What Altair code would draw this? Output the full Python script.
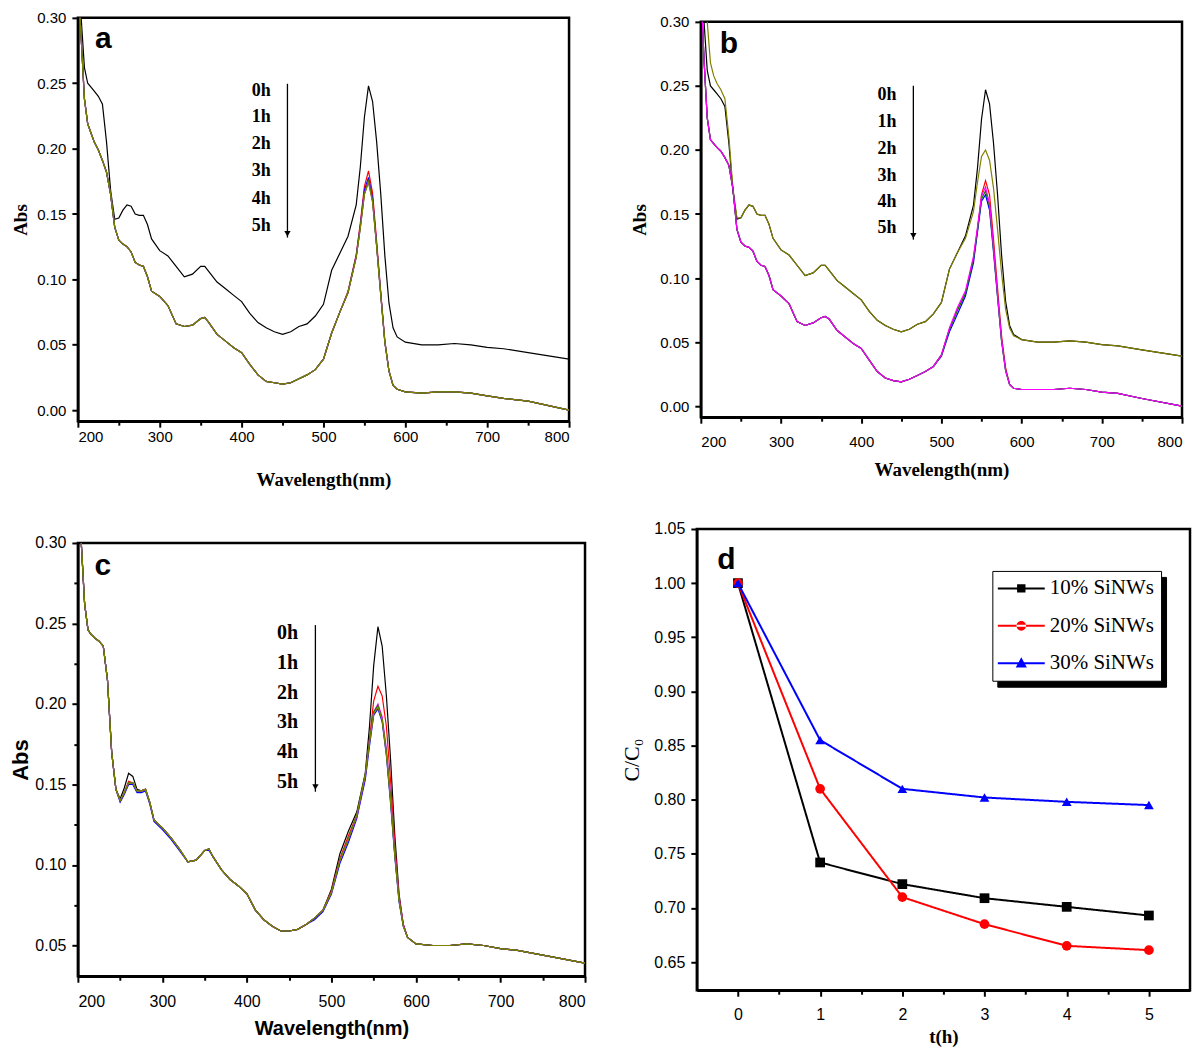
import altair as alt
import pandas as pd

# ---------------- data ----------------
wavelength = [200, 204, 208, 212, 216, 220, 225, 230, 235, 240,
              245, 250, 255, 260, 265, 270, 275, 280, 285, 290,
              300, 310, 320, 330, 340, 350, 355, 360, 370, 380,
              390, 400, 410, 420, 430, 440, 450, 460, 470, 480,
              490, 500, 510, 520, 530, 540, 545, 550, 555, 560,
              565, 570, 575, 580, 585, 590, 600, 620, 640, 660,
              680, 700, 720, 750, 800]
hours = ["0h", "1h", "2h", "3h", "4h", "5h"]

# panel a
a_0h = [0.330, 0.300, 0.262, 0.250, 0.247, 0.244, 0.240, 0.234, 0.205, 0.168,
        0.146, 0.147, 0.153, 0.157, 0.156, 0.150, 0.149, 0.149, 0.142, 0.131,
        0.122, 0.118, 0.110, 0.102, 0.104, 0.110, 0.110, 0.106, 0.098, 0.093,
        0.088, 0.083, 0.074, 0.067, 0.063, 0.060, 0.058, 0.060, 0.064, 0.066,
        0.072, 0.081, 0.107, 0.120, 0.133, 0.157, 0.186, 0.224, 0.248, 0.236,
        0.205, 0.165, 0.118, 0.082, 0.063, 0.056, 0.052, 0.050, 0.050, 0.051,
        0.050, 0.048, 0.047, 0.044, 0.039]
a_1h = [0.330, 0.285, 0.238, 0.219, 0.212, 0.205, 0.199, 0.191, 0.182, 0.165,
        0.140, 0.130, 0.127, 0.125, 0.121, 0.113, 0.111, 0.110, 0.102, 0.091,
        0.087, 0.080, 0.066, 0.064, 0.065, 0.070, 0.071, 0.067, 0.058, 0.053,
        0.048, 0.044, 0.035, 0.027, 0.022, 0.021, 0.020, 0.021, 0.024, 0.027,
        0.031, 0.039, 0.059, 0.075, 0.091, 0.119, 0.143, 0.171, 0.183, 0.166,
        0.129, 0.090, 0.053, 0.030, 0.019, 0.016, 0.014, 0.013, 0.014, 0.014,
        0.013, 0.011, 0.009, 0.007, 0.000]
a_2h = [0.330, 0.285, 0.238, 0.219, 0.212, 0.205, 0.199, 0.191, 0.182, 0.165,
        0.140, 0.130, 0.127, 0.125, 0.121, 0.113, 0.111, 0.110, 0.102, 0.091,
        0.087, 0.080, 0.066, 0.064, 0.065, 0.070, 0.071, 0.067, 0.058, 0.053,
        0.048, 0.044, 0.035, 0.027, 0.022, 0.021, 0.020, 0.021, 0.024, 0.027,
        0.031, 0.039, 0.059, 0.075, 0.090, 0.118, 0.141, 0.168, 0.178, 0.162,
        0.126, 0.089, 0.052, 0.030, 0.019, 0.016, 0.014, 0.013, 0.014, 0.014,
        0.013, 0.011, 0.009, 0.007, 0.000]
a_3h = [0.330, 0.285, 0.238, 0.219, 0.212, 0.205, 0.199, 0.191, 0.182, 0.165,
        0.140, 0.130, 0.127, 0.125, 0.121, 0.113, 0.111, 0.110, 0.102, 0.091,
        0.087, 0.080, 0.066, 0.064, 0.065, 0.070, 0.071, 0.067, 0.058, 0.053,
        0.048, 0.044, 0.035, 0.027, 0.022, 0.021, 0.020, 0.021, 0.024, 0.027,
        0.031, 0.039, 0.059, 0.075, 0.090, 0.117, 0.140, 0.166, 0.176, 0.160,
        0.125, 0.088, 0.052, 0.030, 0.019, 0.016, 0.014, 0.013, 0.014, 0.014,
        0.013, 0.011, 0.009, 0.007, 0.000]
a_4h = [0.330, 0.285, 0.238, 0.219, 0.212, 0.205, 0.199, 0.191, 0.182, 0.165,
        0.140, 0.130, 0.127, 0.125, 0.121, 0.113, 0.111, 0.110, 0.102, 0.091,
        0.087, 0.080, 0.066, 0.064, 0.065, 0.070, 0.071, 0.067, 0.058, 0.053,
        0.048, 0.044, 0.035, 0.027, 0.022, 0.021, 0.020, 0.021, 0.024, 0.027,
        0.031, 0.039, 0.059, 0.075, 0.090, 0.117, 0.140, 0.165, 0.175, 0.160,
        0.125, 0.088, 0.052, 0.030, 0.019, 0.016, 0.014, 0.013, 0.014, 0.014,
        0.013, 0.011, 0.009, 0.007, 0.000]
a_5h = [0.330, 0.285, 0.238, 0.219, 0.212, 0.205, 0.199, 0.191, 0.182, 0.165,
        0.140, 0.130, 0.127, 0.125, 0.121, 0.113, 0.111, 0.110, 0.102, 0.091,
        0.087, 0.080, 0.066, 0.064, 0.065, 0.070, 0.071, 0.067, 0.058, 0.053,
        0.048, 0.044, 0.035, 0.027, 0.022, 0.021, 0.020, 0.021, 0.024, 0.027,
        0.031, 0.039, 0.059, 0.075, 0.090, 0.117, 0.139, 0.165, 0.174, 0.159,
        0.125, 0.088, 0.052, 0.030, 0.019, 0.016, 0.014, 0.013, 0.014, 0.014,
        0.013, 0.011, 0.009, 0.007, 0.000]

# panel b
b_0h = [0.330, 0.300, 0.262, 0.250, 0.247, 0.244, 0.240, 0.234, 0.205, 0.168,
        0.146, 0.147, 0.153, 0.157, 0.156, 0.150, 0.149, 0.149, 0.142, 0.131,
        0.122, 0.118, 0.110, 0.102, 0.104, 0.110, 0.110, 0.106, 0.098, 0.093,
        0.088, 0.083, 0.074, 0.067, 0.063, 0.060, 0.058, 0.060, 0.064, 0.066,
        0.072, 0.081, 0.107, 0.120, 0.133, 0.157, 0.186, 0.224, 0.247, 0.236,
        0.205, 0.165, 0.118, 0.082, 0.063, 0.056, 0.052, 0.050, 0.050, 0.051,
        0.050, 0.048, 0.047, 0.044, 0.039]
b_1h = [0.330, 0.330, 0.300, 0.268, 0.258, 0.252, 0.247, 0.240, 0.210, 0.170,
        0.147, 0.147, 0.153, 0.157, 0.156, 0.150, 0.149, 0.149, 0.142, 0.131,
        0.122, 0.118, 0.110, 0.102, 0.104, 0.110, 0.110, 0.106, 0.098, 0.093,
        0.088, 0.083, 0.074, 0.067, 0.063, 0.060, 0.058, 0.060, 0.064, 0.066,
        0.072, 0.081, 0.107, 0.120, 0.131, 0.152, 0.175, 0.195, 0.200, 0.192,
        0.170, 0.138, 0.104, 0.076, 0.061, 0.055, 0.052, 0.050, 0.050, 0.051,
        0.050, 0.048, 0.047, 0.044, 0.039]
b_2h = [0.330, 0.270, 0.225, 0.208, 0.205, 0.202, 0.199, 0.194, 0.188, 0.170,
        0.138, 0.128, 0.125, 0.124, 0.121, 0.113, 0.110, 0.109, 0.102, 0.091,
        0.086, 0.080, 0.066, 0.063, 0.065, 0.069, 0.070, 0.068, 0.059, 0.054,
        0.049, 0.045, 0.036, 0.027, 0.022, 0.020, 0.019, 0.021, 0.024, 0.027,
        0.031, 0.040, 0.060, 0.075, 0.088, 0.115, 0.138, 0.165, 0.176, 0.165,
        0.130, 0.092, 0.055, 0.030, 0.017, 0.014, 0.013, 0.013, 0.013, 0.014,
        0.013, 0.011, 0.010, 0.006, 0.000]
b_3h = [0.330, 0.270, 0.225, 0.208, 0.205, 0.202, 0.199, 0.194, 0.188, 0.170,
        0.138, 0.128, 0.125, 0.124, 0.121, 0.113, 0.110, 0.109, 0.102, 0.091,
        0.086, 0.080, 0.066, 0.063, 0.065, 0.069, 0.070, 0.068, 0.059, 0.054,
        0.049, 0.045, 0.036, 0.027, 0.022, 0.020, 0.019, 0.021, 0.024, 0.027,
        0.031, 0.039, 0.058, 0.072, 0.086, 0.112, 0.136, 0.160, 0.165, 0.153,
        0.120, 0.085, 0.051, 0.028, 0.017, 0.014, 0.013, 0.013, 0.013, 0.014,
        0.013, 0.011, 0.010, 0.006, 0.000]
b_4h = [0.330, 0.270, 0.225, 0.208, 0.205, 0.202, 0.199, 0.194, 0.188, 0.170,
        0.138, 0.128, 0.125, 0.124, 0.121, 0.113, 0.110, 0.109, 0.102, 0.091,
        0.086, 0.080, 0.066, 0.063, 0.065, 0.069, 0.070, 0.068, 0.059, 0.054,
        0.049, 0.045, 0.036, 0.027, 0.022, 0.020, 0.019, 0.021, 0.024, 0.027,
        0.031, 0.040, 0.060, 0.075, 0.088, 0.115, 0.138, 0.162, 0.168, 0.156,
        0.122, 0.086, 0.051, 0.028, 0.017, 0.014, 0.013, 0.013, 0.013, 0.014,
        0.013, 0.011, 0.010, 0.006, 0.000]
b_5h = [0.330, 0.270, 0.225, 0.208, 0.205, 0.202, 0.199, 0.194, 0.188, 0.170,
        0.138, 0.128, 0.125, 0.124, 0.121, 0.113, 0.110, 0.109, 0.102, 0.091,
        0.086, 0.080, 0.066, 0.063, 0.065, 0.069, 0.070, 0.068, 0.059, 0.054,
        0.049, 0.045, 0.036, 0.027, 0.022, 0.020, 0.019, 0.021, 0.024, 0.027,
        0.031, 0.040, 0.061, 0.077, 0.090, 0.117, 0.140, 0.164, 0.171, 0.158,
        0.124, 0.087, 0.052, 0.028, 0.017, 0.014, 0.013, 0.013, 0.013, 0.014,
        0.013, 0.011, 0.010, 0.006, 0.000]

# panel c
c_0h = [0.330, 0.300, 0.262, 0.246, 0.243, 0.241, 0.239, 0.236, 0.215, 0.170,
        0.147, 0.141, 0.148, 0.157, 0.155, 0.147, 0.146, 0.147, 0.139, 0.128,
        0.123, 0.117, 0.110, 0.102, 0.103, 0.109, 0.110, 0.105, 0.097, 0.091,
        0.087, 0.082, 0.072, 0.066, 0.062, 0.059, 0.059, 0.060, 0.063, 0.067,
        0.072, 0.085, 0.107, 0.121, 0.133, 0.157, 0.186, 0.224, 0.248, 0.236,
        0.205, 0.165, 0.118, 0.082, 0.063, 0.055, 0.051, 0.050, 0.050, 0.051,
        0.050, 0.048, 0.047, 0.044, 0.039]
c_1h = [0.330, 0.300, 0.262, 0.246, 0.243, 0.241, 0.239, 0.236, 0.215, 0.170,
        0.147, 0.140, 0.145, 0.152, 0.151, 0.146, 0.146, 0.147, 0.139, 0.128,
        0.123, 0.117, 0.110, 0.102, 0.103, 0.109, 0.110, 0.105, 0.097, 0.091,
        0.087, 0.082, 0.072, 0.066, 0.062, 0.059, 0.059, 0.060, 0.063, 0.067,
        0.072, 0.084, 0.104, 0.118, 0.131, 0.155, 0.178, 0.202, 0.211, 0.205,
        0.186, 0.152, 0.112, 0.080, 0.063, 0.055, 0.051, 0.050, 0.050, 0.051,
        0.050, 0.048, 0.047, 0.044, 0.039]
c_2h = [0.330, 0.300, 0.262, 0.246, 0.243, 0.241, 0.239, 0.236, 0.215, 0.170,
        0.147, 0.139, 0.144, 0.150, 0.150, 0.145, 0.145, 0.146, 0.138, 0.127,
        0.122, 0.116, 0.109, 0.102, 0.103, 0.109, 0.109, 0.105, 0.097, 0.091,
        0.087, 0.082, 0.072, 0.066, 0.062, 0.059, 0.059, 0.060, 0.063, 0.066,
        0.071, 0.082, 0.101, 0.114, 0.129, 0.153, 0.174, 0.193, 0.197, 0.189,
        0.168, 0.138, 0.105, 0.077, 0.062, 0.055, 0.051, 0.050, 0.050, 0.051,
        0.050, 0.048, 0.047, 0.044, 0.039]
c_3h = [0.330, 0.300, 0.262, 0.246, 0.243, 0.241, 0.239, 0.236, 0.215, 0.170,
        0.147, 0.140, 0.145, 0.151, 0.151, 0.146, 0.146, 0.147, 0.139, 0.128,
        0.123, 0.117, 0.110, 0.102, 0.103, 0.109, 0.110, 0.105, 0.097, 0.091,
        0.087, 0.082, 0.072, 0.066, 0.062, 0.059, 0.059, 0.060, 0.063, 0.067,
        0.072, 0.083, 0.103, 0.116, 0.130, 0.155, 0.177, 0.195, 0.200, 0.192,
        0.172, 0.143, 0.108, 0.079, 0.063, 0.055, 0.051, 0.050, 0.050, 0.051,
        0.050, 0.048, 0.047, 0.044, 0.039]
c_4h = [0.330, 0.300, 0.262, 0.246, 0.243, 0.241, 0.239, 0.236, 0.215, 0.170,
        0.147, 0.140, 0.145, 0.151, 0.151, 0.146, 0.146, 0.147, 0.139, 0.128,
        0.123, 0.117, 0.110, 0.102, 0.103, 0.109, 0.110, 0.105, 0.097, 0.091,
        0.087, 0.082, 0.072, 0.066, 0.062, 0.059, 0.059, 0.060, 0.063, 0.067,
        0.072, 0.083, 0.103, 0.116, 0.131, 0.156, 0.177, 0.195, 0.199, 0.190,
        0.170, 0.140, 0.106, 0.078, 0.062, 0.055, 0.051, 0.050, 0.050, 0.051,
        0.050, 0.048, 0.047, 0.044, 0.039]
c_5h = [0.330, 0.300, 0.262, 0.246, 0.243, 0.241, 0.239, 0.236, 0.215, 0.170,
        0.147, 0.140, 0.145, 0.151, 0.151, 0.146, 0.146, 0.147, 0.139, 0.128,
        0.123, 0.117, 0.110, 0.102, 0.103, 0.109, 0.110, 0.105, 0.097, 0.091,
        0.087, 0.082, 0.072, 0.066, 0.062, 0.059, 0.059, 0.060, 0.063, 0.067,
        0.072, 0.083, 0.103, 0.116, 0.131, 0.156, 0.176, 0.194, 0.198, 0.190,
        0.169, 0.140, 0.106, 0.078, 0.062, 0.055, 0.051, 0.050, 0.050, 0.051,
        0.050, 0.048, 0.047, 0.044, 0.039]

# panel d
t_hours = [0, 1, 2, 3, 4, 5]
sinws_10 = [1.000, 0.742, 0.722, 0.709, 0.701, 0.693]
sinws_20 = [1.000, 0.810, 0.710, 0.685, 0.665, 0.661]
sinws_30 = [1.000, 0.855, 0.810, 0.802, 0.798, 0.795]
series_d = ["10% SiNWs", "20% SiNWs", "30% SiNWs"]

# tick values
x_ticks_nm = [200, 250, 300, 350, 400, 450, 500, 550, 600, 650, 700, 750, 800]
y_ticks_ab = [0.0, 0.025, 0.05, 0.075, 0.1, 0.125, 0.15, 0.175, 0.2, 0.225, 0.25, 0.275, 0.3]
y_ticks_c = [0.05, 0.075, 0.1, 0.125, 0.15, 0.175, 0.2, 0.225, 0.25, 0.275, 0.3]
x_ticks_t = [0, 0.5, 1, 1.5, 2, 2.5, 3, 3.5, 4, 4.5, 5]
y_ticks_d = [0.65, 0.675, 0.7, 0.725, 0.75, 0.775, 0.8, 0.825, 0.85, 0.875,
             0.9, 0.925, 0.95, 0.975, 1.0, 1.025, 1.05]

# ---------------- helpers ----------------
HALF_TEST = "abs(datum.value / 0.05 - round(datum.value / 0.05)) < 0.001"


def long_df(arrays):
    rows = []
    for h, arr in zip(hours, arrays):
        for w, v in zip(wavelength, arr):
            rows.append({"wl": w, "abs": v, "hour": h})
    return pd.DataFrame(rows)


def x_axis(title, tfont, tsize, lsize, lpad, tpad, values, major):
    test = f"datum.value % {major} === 0"
    return alt.Axis(
        title=title, values=values, grid=False, labelOverlap=False,
        labelExpr=f"{test} ? format(datum.value, 'd') : ''",
        labelFont="Liberation Sans", labelFontSize=lsize, labelPadding=lpad,
        titleFont=tfont, titleFontSize=tsize, titleFontWeight="bold", titlePadding=tpad,
        tickSize={"condition": {"test": test, "value": 6}, "value": 4},
        tickWidth=2, domainWidth=2.5,
    )


def y_axis(title, tfont, tsize, tweight, lsize, tpad, values):
    return alt.Axis(
        title=title, values=values, grid=False, labelOverlap=False,
        labelExpr=f"{HALF_TEST} ? format(datum.value, '.2f') : ''",
        labelFont="Liberation Sans", labelFontSize=lsize, labelPadding=6,
        titleFont=tfont, titleFontSize=tsize, titleFontWeight=tweight, titlePadding=tpad,
        tickSize={"condition": {"test": HALF_TEST, "value": 6}, "value": 4},
        tickWidth=2, domainWidth=2.5,
    )


def spectra_panel(arrays, colors, ydom, xax, yax, width, height,
                  letter, letter_pos, lab_x, lab_y, lab_size, arrow_x, arrow_top, arrow_bot):
    df = long_df(arrays)
    x = alt.X("wl:Q", scale=alt.Scale(domain=[200, 800], nice=False, zero=False), axis=xax)
    y = alt.Y("abs:Q", scale=alt.Scale(domain=ydom, nice=False, zero=False), axis=yax)
    lines = alt.Chart(df).mark_line(strokeWidth=1.2, clip=True).encode(
        x=x, y=y,
        color=alt.Color("hour:N", scale=alt.Scale(domain=hours, range=colors), legend=None),
    )
    lab_df = pd.DataFrame({"wl": [lab_x] * 6, "abs": lab_y, "txt": hours})
    labels = alt.Chart(lab_df).mark_text(
        font="Liberation Serif", fontWeight="bold", fontSize=lab_size, color="black",
        align="center", baseline="middle").encode(x="wl:Q", y="abs:Q", text="txt:N")
    arr_df = pd.DataFrame({"wl": [arrow_x], "abs": [arrow_top], "abs_end": [arrow_bot]})
    arrow = alt.Chart(arr_df).mark_rule(color="black", strokeWidth=1.3).encode(
        x="wl:Q", y="abs:Q", y2="abs_end:Q")
    head_df = pd.DataFrame({"wl": [arrow_x], "abs": [arrow_bot + 0.003]})
    head = alt.Chart(head_df).mark_point(shape="triangle-down", filled=True, color="black",
                                         size=40, opacity=1).encode(x="wl:Q", y="abs:Q")
    let_df = pd.DataFrame({"wl": [letter_pos[0]], "abs": [letter_pos[1]], "txt": [letter]})
    let = alt.Chart(let_df).mark_text(font="Liberation Sans", fontWeight="bold", fontSize=30,
                                      color="black", align="center", baseline="alphabetic").encode(
        x="wl:Q", y="abs:Q", text="txt:N")
    return alt.layer(lines, arrow, head, labels, let).properties(width=width, height=height)


BLACK, RED, BLUE, MAG, GREEN, OLIVE = "#000000", "#ff0000", "#0000ff", "#ff00ff", "#008000", "#808000"

panel_a = spectra_panel(
    [a_0h, a_1h, a_2h, a_3h, a_4h, a_5h], [BLACK, RED, BLUE, MAG, GREEN, OLIVE],
    [-0.0084, 0.30],
    x_axis("Wavelength(nm)", "Liberation Serif", 19, 15, 2, 26, x_ticks_nm, 100),
    y_axis("Abs", "Liberation Serif", 19, "bold", 15, 6, y_ticks_ab),
    492, 404, "a", (231, 0.277), 424, [0.2443, 0.2244, 0.2038, 0.1832, 0.1618, 0.1412], 18,
    456, 0.2496, 0.132)

panel_b = spectra_panel(
    [b_0h, b_1h, b_2h, b_3h, b_4h, b_5h], [BLACK, OLIVE, RED, BLUE, GREEN, MAG],
    [-0.0086, 0.30],
    x_axis("Wavelength(nm)", "Liberation Serif", 19, 15, 11, 11, x_ticks_nm, 100),
    y_axis("Abs", "Liberation Serif", 19, "bold", 15, 10, y_ticks_ab),
    482, 396, "b", (235, 0.276), 432, [0.2431, 0.2221, 0.2010, 0.1800, 0.1597, 0.1387], 18,
    465, 0.2501, 0.130)

panel_c = spectra_panel(
    [c_0h, c_1h, c_2h, c_3h, c_4h, c_5h], [BLACK, RED, BLUE, MAG, GREEN, OLIVE],
    [0.0309, 0.30],
    x_axis("Wavelength(nm)", "Liberation Sans", 20, 16, 11, 9, x_ticks_nm, 100),
    y_axis("Abs", "Liberation Sans", 22, "bold", 16, 2, y_ticks_c),
    508, 434, "c", (229.5, 0.280), 448, [0.2440, 0.2255, 0.2070, 0.1885, 0.1700, 0.1516], 20,
    481, 0.249, 0.1455)

# ---------------- panel d ----------------
rows = []
for s, arr in zip(series_d, [sinws_10, sinws_20, sinws_30]):
    for t, v in zip(t_hours, arr):
        rows.append({"t": t, "c": v, "series": s, "series_l": s, "series_s": s})
df_d = pd.DataFrame(rows)

# legend symbols: a line segment with the marker on it
LINE_SEG = "M-2.35,-0.1H2.35V0.1H-2.35Z"
legend_paths = [
    LINE_SEG + " M-0.42,-0.42H0.42V0.42H-0.42Z",
    LINE_SEG + " M-0.48,0A0.48,0.48,0,1,0,0.48,0A0.48,0.48,0,1,0,-0.48,0Z",
    LINE_SEG + " M0,-0.6L0.56,0.42L-0.56,0.42Z",
]

LEG_X, LEG_Y = 296, 42
common_leg = dict(title=None, orient="none", direction="vertical",
                  labelFont="Liberation Serif", labelFontSize=21, labelColor="black", labelLimit=0,
                  symbolSize=400, symbolStrokeWidth=0, symbolOffset=11.5,
                  rowPadding=15.5, padding=7, strokeColor="black")
main_leg = alt.Legend(legendX=LEG_X, legendY=LEG_Y, fillColor="white", zindex=2,
                      symbolOpacity=1, labelOffset=18, **common_leg)
# drop shadow of the legend box: same size, no visible entries
shadow_leg = alt.Legend(legendX=LEG_X + 5, legendY=LEG_Y + 6, fillColor="black", zindex=1,
                        symbolOpacity=0, labelOpacity=0, labelExpr="''", labelOffset=122,
                        **common_leg)

color_d = alt.Scale(domain=series_d, range=[BLACK, RED, BLUE])
xd = alt.X("t:Q", scale=alt.Scale(domain=[-0.5, 5.5], nice=False, zero=False),
           axis=x_axis("t(h)", "Liberation Serif", 19, 16, 10, 5, x_ticks_t, 1))
yd = alt.Y("c:Q", scale=alt.Scale(domain=[0.624, 1.05], nice=False, zero=False),
           axis=y_axis("C/C\u2080", "Liberation Serif", 22, "normal", 16, 10, y_ticks_d))

lines_d = alt.Chart(df_d).mark_line(strokeWidth=2, clip=True).encode(
    x=xd, y=yd,
    color=alt.Color("series:N", scale=color_d, legend=None),
    strokeDash=alt.StrokeDash("series_s:N", scale=alt.Scale(range=[[1, 0], [1, 0], [1, 0]]),
                              legend=shadow_leg),
)
points_d = alt.Chart(df_d).mark_point(filled=True, size=95, opacity=1).encode(
    x="t:Q", y="c:Q",
    color=alt.Color("series:N", scale=color_d, legend=None),
    shape=alt.Shape("series:N", scale=alt.Scale(domain=series_d,
                                                range=["square", "circle", "triangle-up"]),
                    legend=None),
)
legend_layer = alt.Chart(df_d).transform_filter("false").mark_point(
    filled=True, opacity=1).encode(
    x="t:Q", y="c:Q",
    color=alt.Color("series_l:N", scale=alt.Scale(domain=series_d, range=[BLACK, RED, BLUE]),
                    legend=main_leg),
    shape=alt.Shape("series_l:N", scale=alt.Scale(domain=series_d, range=legend_paths),
                    legend=main_leg),
)
let_d = alt.Chart(pd.DataFrame({"t": [-0.14], "c": [1.0135], "txt": ["d"]})).mark_text(
    font="Liberation Sans", fontWeight="bold", fontSize=30, color="black",
    align="center", baseline="alphabetic").encode(x="t:Q", y="c:Q", text="txt:N")

panel_d = alt.layer(lines_d, points_d, legend_layer, let_d).resolve_scale(
    color="independent", shape="independent").properties(width=494, height=462)

# ---------------- layout ----------------
top = alt.hconcat(panel_a, panel_b, spacing=132, bounds="flush", center=True).resolve_scale(
    color="independent")
bottom = alt.hconcat(panel_c, panel_d, spacing=112, bounds="flush", center=True).resolve_scale(
    color="independent", shape="independent", strokeDash="independent")

chart = alt.vconcat(top, bottom, spacing=28).resolve_scale(
    color="independent", shape="independent", strokeDash="independent"
).properties(
    padding={"left": 0, "top": 0, "right": 0, "bottom": 0},
    background="white",
).configure_view(
    stroke="black", strokeWidth=2.5
).configure_axis(
    labelColor="black", titleColor="black", domainColor="black", tickColor="black"
)

chart.save("out.html", embed_options={"renderer": "svg", "actions": False})
